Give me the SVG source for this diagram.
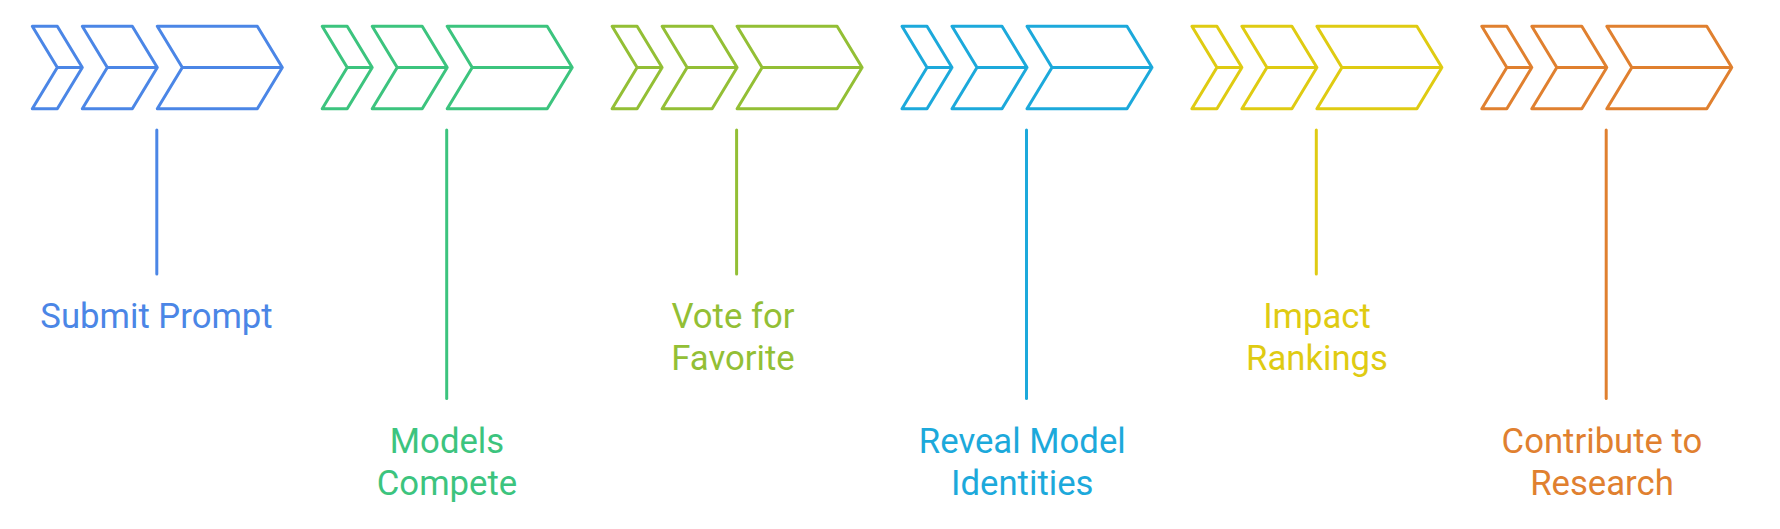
<svg xmlns="http://www.w3.org/2000/svg" width="1780" height="529" viewBox="0 0 1780 529">
<defs>
<style>
.ch{fill:none;stroke-width:3;stroke-linejoin:round;stroke-linecap:round}
.cn{fill:none;stroke-width:3;stroke-linecap:round}
.lb{font-family:Roboto,"Liberation Sans",sans-serif;font-size:34.7px;text-anchor:middle}
.c1{stroke:#4B86E6;fill:#4B86E6}
.c2{stroke:#3CC47E;fill:#3CC47E}
.c3{stroke:#93BF35;fill:#93BF35}
.c4{stroke:#1CA9DB;fill:#1CA9DB}
.c5{stroke:#DFCB12;fill:#DFCB12}
.c6{stroke:#E0802F;fill:#E0802F}
text{stroke:none}
</style>
<g id="chev">
<path class="ch" d="M0,0 H25 L50,41.3 L25,82.6 H0 L25,41.3 Z M25,41.3 H50"/>
<path class="ch" d="M50,0 H100 L125,41.3 L100,82.6 H50 L75,41.3 Z M75,41.3 H125"/>
<path class="ch" d="M125,0 H225 L250,41.3 L225,82.6 H125 L150,41.3 Z M150,41.3 H250"/>
</g>
</defs>
<rect width="1780" height="529" fill="#ffffff"/>
<g id="connectors">
<line class="cn c1" x1="156.8" y1="130" x2="156.8" y2="274"/>
<line class="cn c2" x1="446.7" y1="130" x2="446.7" y2="398.5"/>
<line class="cn c3" x1="736.6" y1="130" x2="736.6" y2="274"/>
<line class="cn c4" x1="1026.5" y1="130" x2="1026.5" y2="398.5"/>
<line class="cn c5" x1="1316.3" y1="130" x2="1316.3" y2="274"/>
<line class="cn c6" x1="1606.2" y1="130" x2="1606.2" y2="398.5"/>
</g>
<g id="node1" class="c1">
<use href="#chev" x="32.3" y="26.2"/>
<text class="lb" x="156.5" y="328.3">Submit Prompt</text>
</g>
<g id="node2" class="c2">
<use href="#chev" x="322.2" y="26.2"/>
<text class="lb" x="447" y="452.7">Models</text>
<text class="lb" x="447" y="494.7">Compete</text>
</g>
<g id="node3" class="c3">
<use href="#chev" x="612.1" y="26.2"/>
<text class="lb" x="733" y="328.3">Vote for</text>
<text class="lb" x="733" y="370.3">Favorite</text>
</g>
<g id="node4" class="c4">
<use href="#chev" x="902" y="26.2"/>
<text class="lb" x="1022.3" y="452.7">Reveal Model</text>
<text class="lb" x="1022.3" y="494.7">Identities</text>
</g>
<g id="node5" class="c5">
<use href="#chev" x="1191.9" y="26.2"/>
<text class="lb" x="1317" y="328.3">Impact</text>
<text class="lb" x="1317" y="370.3">Rankings</text>
</g>
<g id="node6" class="c6">
<use href="#chev" x="1481.8" y="26.2"/>
<text class="lb" x="1602" y="452.7">Contribute to</text>
<text class="lb" x="1602" y="494.7">Research</text>
</g>
</svg>
